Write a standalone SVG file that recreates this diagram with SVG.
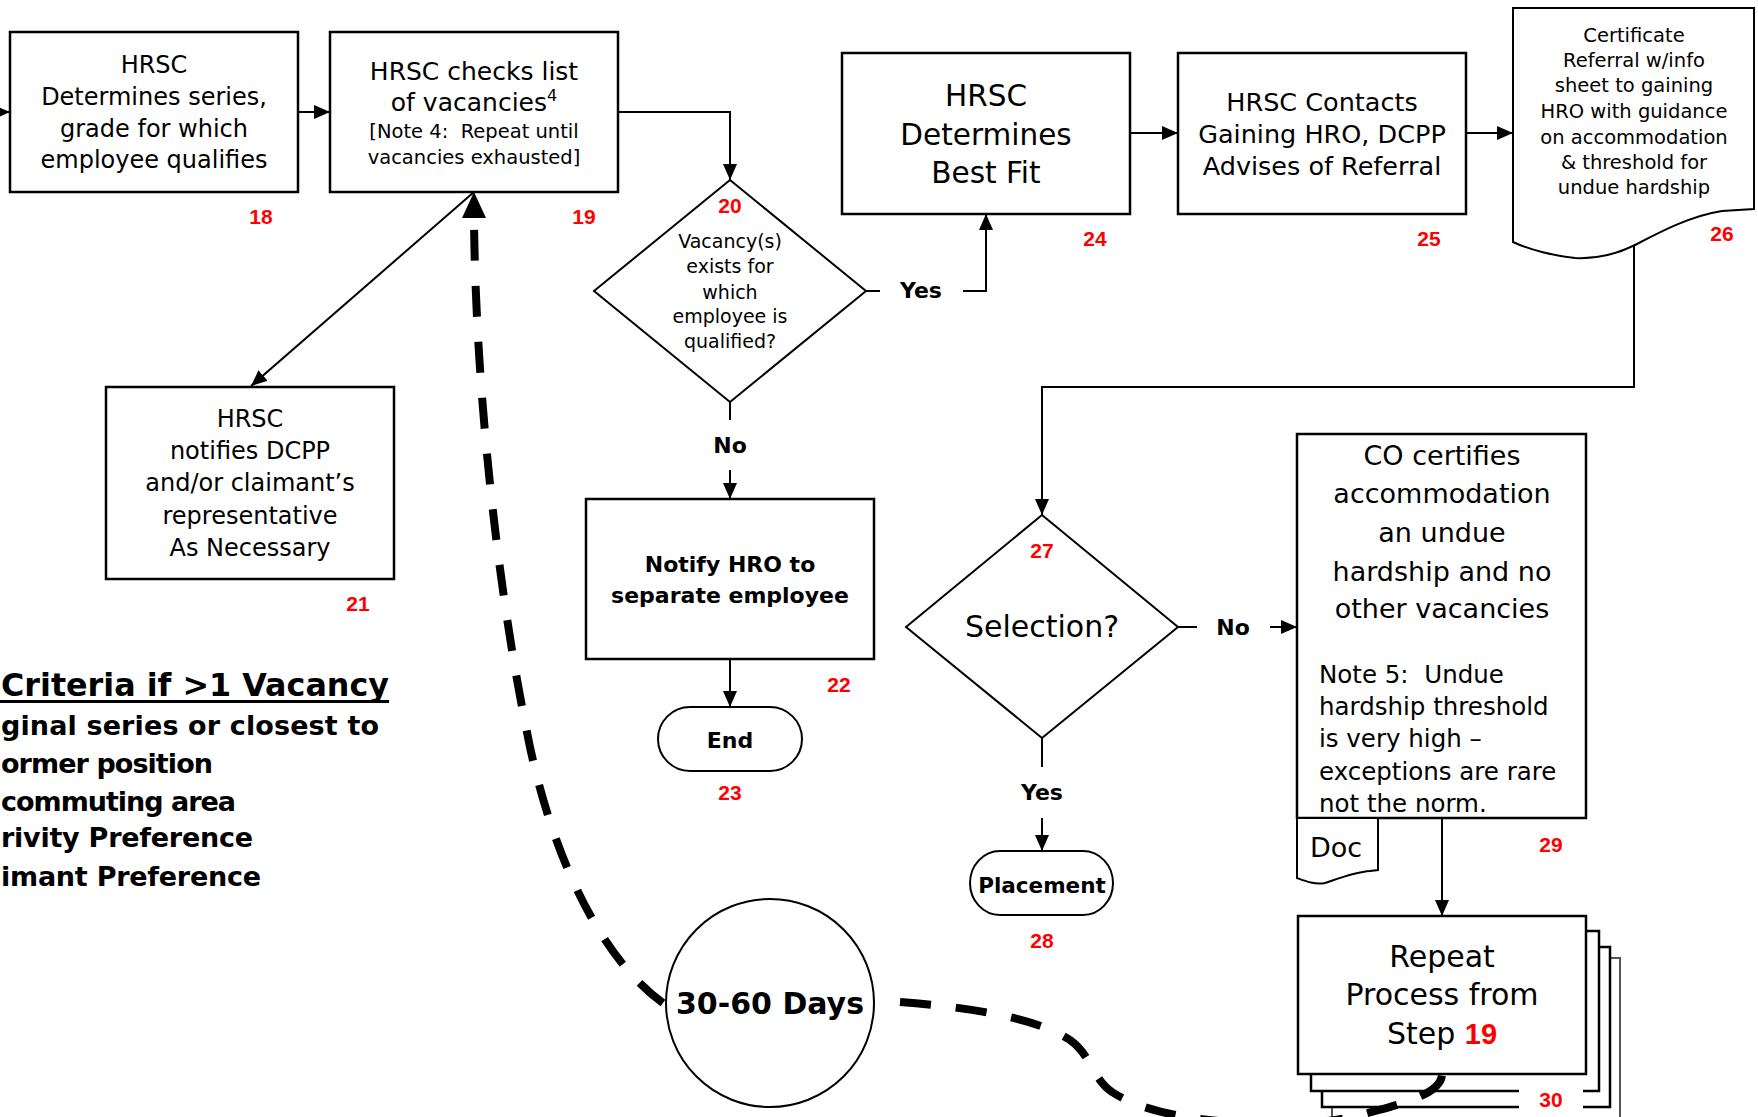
<svg xmlns="http://www.w3.org/2000/svg" width="1758" height="1117" viewBox="0 0 1758 1117">
<defs>
<style>
.box{fill:#fff;stroke:#000;stroke-width:2.5}
.shp{fill:#fff;stroke:#000;stroke-width:2}
.conn{fill:none;stroke:#000;stroke-width:2}
.dash{fill:none;stroke:#000;stroke-width:8;stroke-dasharray:31 25}
.t{font-family:"DejaVu Sans",sans-serif;fill:#000;text-anchor:middle}
.l{font-family:"DejaVu Sans",sans-serif;fill:#000;text-anchor:start}
.b{font-weight:bold}
.num{font-family:"Liberation Sans",Arial,sans-serif;font-weight:bold;font-size:21px;fill:#ff0000;text-anchor:middle}
</style>
<marker id="ah" markerWidth="16" markerHeight="14" refX="16" refY="7" orient="auto" markerUnits="userSpaceOnUse"><path d="M0,0 L16,7 L0,14 Z" fill="#000"/></marker>
</defs>
<rect width="1758" height="1117" fill="#fff"/>

<g id="n18">
<rect class="box" x="10" y="32" width="288" height="160"/>
<text class="t" font-size="24"><tspan x="154" y="73">HRSC</tspan><tspan x="154" y="105">Determines series,</tspan><tspan x="154" y="137">grade for which</tspan><tspan x="154" y="168">employee qualifies</tspan></text>
<text class="num" x="261" y="224">18</text>
</g>

<g id="n19">
<rect class="box" x="330" y="32" width="288" height="160"/>
<text class="t" font-size="25"><tspan x="474" y="80">HRSC checks list</tspan><tspan x="474" y="111">of vacancies<tspan font-size="16" dy="-10">4</tspan></tspan></text>
<text class="t" font-size="19.5" xml:space="preserve"><tspan x="474" y="138">[Note 4:  Repeat until</tspan><tspan x="474" y="164">vacancies exhausted]</tspan></text>
<text class="num" x="584" y="224">19</text>
</g>

<g id="n20">
<polygon class="shp" points="730,180 866,291 730,402 594,291"/>
<text class="num" x="730" y="213">20</text>
<text class="t" font-size="19"><tspan x="730" y="248">Vacancy(s)</tspan><tspan x="730" y="273">exists for</tspan><tspan x="730" y="299">which</tspan><tspan x="730" y="323">employee is</tspan><tspan x="730" y="348">qualified?</tspan></text>
</g>

<g id="n21">
<rect class="box" x="106" y="387" width="288" height="192"/>
<text class="t" font-size="24"><tspan x="250" y="427">HRSC</tspan><tspan x="250" y="459">notifies DCPP</tspan><tspan x="250" y="491">and/or claimant’s</tspan><tspan x="250" y="524">representative</tspan><tspan x="250" y="556">As Necessary</tspan></text>
<text class="num" x="358" y="611">21</text>
</g>

<g id="n22">
<rect class="box" x="586" y="499" width="288" height="160"/>
<text class="t b" font-size="22"><tspan x="730" y="572">Notify HRO to</tspan><tspan x="730" y="603">separate employee</tspan></text>
<text class="num" x="839" y="692">22</text>
</g>

<g id="n23">
<rect class="shp" x="658" y="707" width="144" height="64" rx="32" ry="32"/>
<text class="t b" font-size="22" x="730" y="748">End</text>
<text class="num" x="730" y="800">23</text>
</g>

<g id="n24">
<rect class="box" x="842" y="53" width="288" height="161"/>
<text class="t" font-size="29.5"><tspan x="986" y="106">HRSC</tspan><tspan x="986" y="145">Determines</tspan><tspan x="986" y="183">Best Fit</tspan></text>
<text class="num" x="1095" y="246">24</text>
</g>

<g id="n25">
<rect class="box" x="1178" y="53" width="288" height="161"/>
<text class="t" font-size="25.5"><tspan x="1322" y="111">HRSC Contacts</tspan><tspan x="1322" y="143">Gaining HRO, DCPP</tspan><tspan x="1322" y="175">Advises of Referral</tspan></text>
<text class="num" x="1429" y="246">25</text>
</g>

<g id="n26">
<path class="shp" d="M1513,8 H1754 V209 L1722,211 C1690,216 1660,232 1635,245 C1615,255 1595,259 1575,258 C1555,256 1530,250 1513,242 Z"/>
<text class="t" font-size="19.5"><tspan x="1634" y="42">Certificate</tspan><tspan x="1634" y="67">Referral w/info</tspan><tspan x="1634" y="92">sheet to gaining</tspan><tspan x="1634" y="118">HRO with guidance</tspan><tspan x="1634" y="144">on accommodation</tspan><tspan x="1634" y="169">&amp; threshold for</tspan><tspan x="1634" y="194">undue hardship</tspan></text>
<text class="num" x="1722" y="241">26</text>
</g>

<g id="n27">
<polygon class="shp" points="1042,515 1178,627 1042,738 906,627"/>
<text class="num" x="1042" y="558">27</text>
<text class="t" font-size="30" x="1042" y="637">Selection?</text>
</g>

<g id="n28">
<rect class="shp" x="970" y="851" width="143" height="64" rx="30" ry="32"/>
<text class="t b" font-size="21.5" x="1042" y="893">Placement</text>
<text class="num" x="1042" y="948">28</text>
</g>

<g id="n29">
<rect class="box" x="1297" y="434" width="289" height="384"/>
<text class="t" font-size="27"><tspan x="1442" y="465">CO certifies</tspan><tspan x="1442" y="503">accommodation</tspan><tspan x="1442" y="542">an undue</tspan><tspan x="1442" y="581">hardship and no</tspan><tspan x="1442" y="618">other vacancies</tspan></text>
<text class="l" font-size="24.5" xml:space="preserve"><tspan x="1319" y="683">Note 5:  Undue</tspan><tspan x="1319" y="715">hardship threshold</tspan><tspan x="1319" y="747">is very high –</tspan><tspan x="1319" y="780">exceptions are rare</tspan><tspan x="1319" y="812">not the norm.</tspan></text>
<path class="shp" d="M1297,818 H1378 V870 L1370,871 C1355,872 1340,878 1325,883 C1315,885 1305,881 1297,878 Z"/>
<text class="l" font-size="27" x="1310" y="857">Doc</text>
<text class="num" x="1551" y="852">29</text>
</g>

<g id="n30">
<rect x="1332" y="958" width="288" height="180" fill="#fff" stroke="#555" stroke-width="2"/>
<rect class="box" x="1322" y="947" width="288" height="160"/>
<rect class="box" x="1311" y="931" width="288" height="160"/>
<rect class="box" x="1298" y="916" width="288" height="158"/>
<rect x="1519" y="1084" width="64" height="30" fill="#fff"/>
<text class="t" font-size="30"><tspan x="1442" y="967">Repeat</tspan><tspan x="1442" y="1005">Process from</tspan><tspan x="1442" y="1044">Step <tspan font-family="Liberation Sans, Arial, sans-serif" font-weight="bold" fill="#ff0000" font-size="29">19</tspan></tspan></text>
<text class="num" x="1551" y="1107">30</text>
</g>

<g id="criteria">
<text class="l b" font-size="32" x="1" y="696" textLength="388" lengthAdjust="spacingAndGlyphs">Criteria if &gt;1 Vacancy</text>
<rect x="0" y="700" width="389" height="3" fill="#000"/>
<text class="l b" font-size="27" x="1" y="735" textLength="378" lengthAdjust="spacing">ginal series or closest to</text>
<text class="l b" font-size="27" x="1" y="773" textLength="212" lengthAdjust="spacing">ormer position</text>
<text class="l b" font-size="27" x="1" y="811" textLength="235" lengthAdjust="spacing">commuting area</text>
<text class="l b" font-size="27" x="1" y="847" textLength="252" lengthAdjust="spacing">rivity Preference</text>
<text class="l b" font-size="27" x="1" y="886" textLength="260" lengthAdjust="spacing">imant Preference</text>
</g>

<g id="connectors">
<line class="conn" x1="0" y1="112" x2="10" y2="112" marker-end="url(#ah)"/>
<line class="conn" x1="298" y1="112" x2="330" y2="112" marker-end="url(#ah)"/>
<polyline class="conn" points="618,112 730,112 730,180" marker-end="url(#ah)"/>
<line class="conn" x1="474" y1="192" x2="251" y2="386" marker-end="url(#ah)"/>
<line class="conn" x1="866" y1="291" x2="880" y2="291"/>
<text class="t b" font-size="22" x="921" y="298">Yes</text>
<polyline class="conn" points="963,291 986,291 986,214" marker-end="url(#ah)"/>
<line class="conn" x1="730" y1="402" x2="730" y2="420"/>
<text class="t b" font-size="22" x="730" y="453">No</text>
<line class="conn" x1="730" y1="470" x2="730" y2="499" marker-end="url(#ah)"/>
<line class="conn" x1="730" y1="659" x2="730" y2="707" marker-end="url(#ah)"/>
<line class="conn" x1="1130" y1="133" x2="1178" y2="133" marker-end="url(#ah)"/>
<line class="conn" x1="1466" y1="133" x2="1513" y2="133" marker-end="url(#ah)"/>
<polyline class="conn" points="1634,245 1634,387 1042,387 1042,515" marker-end="url(#ah)"/>
<line class="conn" x1="1042" y1="738" x2="1042" y2="767"/>
<text class="t b" font-size="22" x="1042" y="800">Yes</text>
<line class="conn" x1="1042" y1="818" x2="1042" y2="851" marker-end="url(#ah)"/>
<line class="conn" x1="1178" y1="627" x2="1197" y2="627"/>
<text class="t b" font-size="22" x="1233" y="635">No</text>
<line class="conn" x1="1270" y1="627" x2="1297" y2="627" marker-end="url(#ah)"/>
<line class="conn" x1="1442" y1="818" x2="1442" y2="916" marker-end="url(#ah)"/>
<path class="dash" d="M663,1003 C590,950 545,830 526,727 C500,600 476,400 474,222"/>
<polygon points="474,192 462,218 486,218" fill="#000"/>
<path class="dash" d="M900,1002 C980,1008 1040,1020 1070,1040 C1092,1056 1092,1078 1112,1092 C1140,1110 1180,1118 1230,1122 C1280,1126 1330,1124 1368,1113 C1400,1104 1440,1095 1442,1075"/>
</g>

<g id="n3060">
<circle class="shp" cx="770" cy="1003" r="104"/>
<text class="t b" font-size="30" x="770" y="1014">30-60 Days</text>
</g>
</svg>
